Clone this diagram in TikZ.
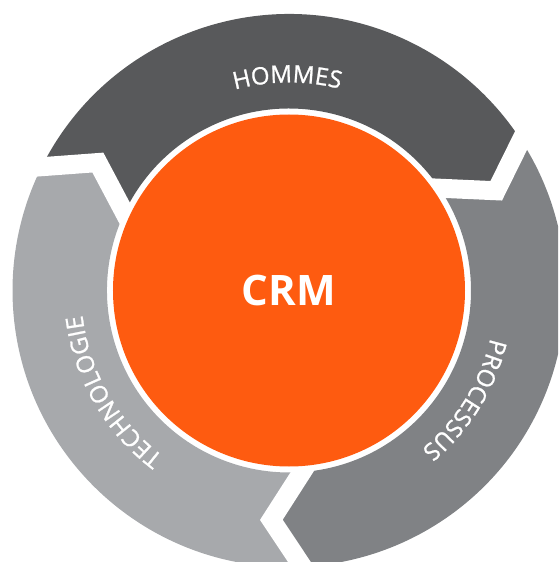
\documentclass[tikz,border=0pt]{standalone}
\usepackage{fontspec}
\setmainfont{Open Sans}
\newfontfamily\labelfont[FakeBold=1]{Open Sans}
\usetikzlibrary{decorations.text}

\definecolor{hommesgray}{RGB}{88,89,91}
\definecolor{processgray}{RGB}{128,130,133}
\definecolor{techgray}{RGB}{167,169,172}
\definecolor{crmorange}{RGB}{254,91,16}

\newcommand{\ringtext}{\labelfont\fontsize{24}{28}\selectfont\color{white}}

\begin{document}
\begin{tikzpicture}[x=1pt, y=1pt,
    gap/.style={draw=white, line width=19pt, line join=miter, shorten <=-20pt, shorten >=-20pt},
    ringlabel/.style={decorate, decoration={text along path, text={|\ringtext|#1}, text align={fit to path}}}]
  \useasboundingbox (-289, -271.5) rectangle (269, 290.5);
  \clip (-289, -271.5) rectangle (269, 290.5);

  \fill[hommesgray] (153.4:276.5) arc[start angle=153.4, end angle=32.9, radius=276.5] -- (25.7:230) -- (34.2:182) arc[start angle=34.2, end angle=154.7, radius=182] -- (146.2:230) -- cycle;
  \fill[processgray] (32.9:276.5) arc[start angle=32.9, end angle=-87.2, radius=276.5] -- (-94.4:230) -- (-85.9:182) arc[start angle=-85.9, end angle=34.2, radius=182] -- (25.7:230) -- cycle;
  \fill[techgray] (272.8:276.5) arc[start angle=272.8, end angle=153.4, radius=276.5] -- (146.2:230) -- (154.7:182) arc[start angle=154.7, end angle=274.1, radius=182] -- (265.6:230) -- cycle;

  \draw[gap] (153.4:276.5) -- (146.2:230) -- (154.7:182);
  \draw[gap] (32.9:276.5) -- (25.7:230) -- (34.2:182);
  \draw[gap] (272.8:276.5) -- (265.6:230) -- (274.1:182);

  \fill[crmorange] (0, 0) circle [radius=176];
  \node[text=white, font=\bfseries\fontsize{42}{48}\selectfont] (crm) at (0, 0) {CRM};

  \path[ringlabel=HOMMES] (105.1:208) arc[start angle=105.1, end angle=75.8, radius=208];
  \path[ringlabel=PROCESSUS] (-13.3:207) arc[start angle=-13.3, end angle=-49.5, radius=207];
  \path[ringlabel=TECHNOLOGIE] (232.9:208) arc[start angle=232.9, end angle=186.8, radius=208];
\end{tikzpicture}
\end{document}
